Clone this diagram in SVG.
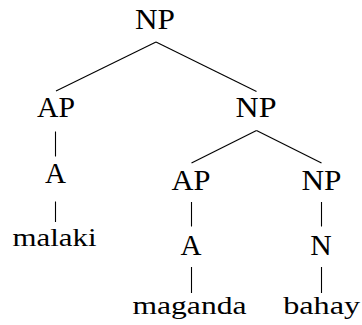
<svg xmlns="http://www.w3.org/2000/svg" width="362" height="325" viewBox="0 0 362 325">
<style>
.cat{font-family:"Liberation Serif",serif;font-size:28.5px;fill:#000;text-anchor:middle}
.lex{font-family:"Liberation Serif",serif;font-size:24.5px;fill:#000;text-anchor:middle}
.e{stroke:#000;stroke-width:1.1;fill:none}
</style>
<rect width="362" height="325" fill="#fff"/>
<g id="connectors">
<line class="e" x1="156" y1="42" x2="56" y2="91"/>
<line class="e" x1="156" y1="42" x2="256.5" y2="91.5"/>
<line class="e" x1="55.5" y1="131.5" x2="55.5" y2="156.5"/>
<line class="e" x1="55.5" y1="201.5" x2="55.5" y2="222"/>
<line class="e" x1="256.5" y1="130.5" x2="191.5" y2="163"/>
<line class="e" x1="256.5" y1="130.5" x2="321.5" y2="163"/>
<line class="e" x1="191.5" y1="202" x2="191.5" y2="226.5"/>
<line class="e" x1="191.5" y1="267" x2="191.5" y2="293"/>
<line class="e" x1="321.5" y1="202" x2="321.5" y2="226.5"/>
<line class="e" x1="321.5" y1="267" x2="321.5" y2="293"/>
</g>
<g id="np-root"><text class="cat" x="155" y="29" textLength="40" lengthAdjust="spacingAndGlyphs">NP</text></g>
<g id="ap-left"><text class="cat" x="56" y="116.5" textLength="38" lengthAdjust="spacingAndGlyphs">AP</text></g>
<g id="np-mid"><text class="cat" x="256" y="116.5" textLength="41" lengthAdjust="spacingAndGlyphs">NP</text></g>
<g id="a-left"><text class="cat" x="55.5" y="183" textLength="21" lengthAdjust="spacingAndGlyphs">A</text></g>
<g id="malaki"><text class="lex" x="54.5" y="245.5" textLength="84" lengthAdjust="spacingAndGlyphs">malaki</text></g>
<g id="ap-right"><text class="cat" x="191" y="189.5" textLength="39" lengthAdjust="spacingAndGlyphs">AP</text></g>
<g id="np-right"><text class="cat" x="321.5" y="189.5" textLength="40" lengthAdjust="spacingAndGlyphs">NP</text></g>
<g id="a-right"><text class="cat" x="191" y="255" textLength="21" lengthAdjust="spacingAndGlyphs">A</text></g>
<g id="n"><text class="cat" x="321" y="255" textLength="21.5" lengthAdjust="spacingAndGlyphs">N</text></g>
<g id="maganda"><text class="lex" x="189.5" y="314" textLength="114" lengthAdjust="spacingAndGlyphs">maganda</text></g>
<g id="bahay"><text class="lex" x="321.7" y="314" textLength="77" lengthAdjust="spacingAndGlyphs">bahay</text></g>
</svg>
